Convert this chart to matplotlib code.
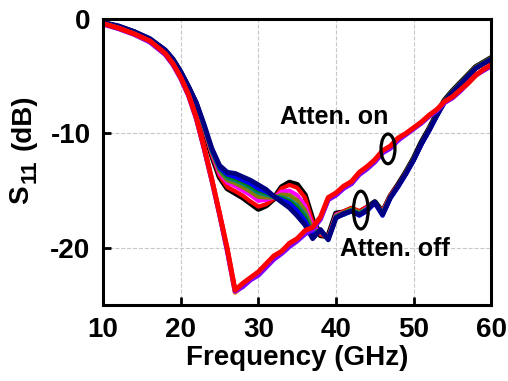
import matplotlib.pyplot as plt
from matplotlib.patches import Ellipse

plt.rcParams['font.family'] = ['Liberation Sans', 'DejaVu Sans']
plt.rcParams['font.weight'] = 'bold'
plt.rcParams['axes.unicode_minus'] = False

freq = [10, 12, 14, 16, 18, 19, 20, 21, 22, 23, 24, 25, 26, 27, 28, 29, 30, 31, 32, 33, 34, 35, 36, 37,
        38, 39, 40, 41, 42, 43, 44, 45, 46, 47, 48, 49, 50, 51, 52, 53, 54, 55, 56, 57, 58, 59, 60]

# Atten. off states
off_black = [-0.35, -0.7, -1.15, -1.8, -2.8, -3.6, -4.7, -6.0, -7.5, -9.6, -11.9, -13.8, -14.8, -15.2, -15.6, -16.1,
             -16.6, -16.3, -15.7, -14.7, -14.3, -14.5, -15.4, -17.6, -18.9, -19.0, -17.0, -16.9, -16.6, -16.9, -16.5,
             -16.0, -16.9, -15.5, -14.5, -13.4, -12.2, -10.8, -9.6, -8.3, -7.1, -6.3, -5.6, -4.9, -4.2, -3.8, -3.4]
off_red = [-0.35, -0.7, -1.15, -1.8, -2.8, -3.6, -4.7, -6.0, -7.45, -9.55, -11.85, -13.7, -14.7, -15.05, -15.45, -15.95,
           -16.4, -16.2, -15.7, -14.8, -14.5, -14.75, -15.6, -17.75, -18.85, -19.05, -17.1, -16.8, -16.5, -16.8, -16.4,
           -16.1, -16.8, -15.4, -14.5, -13.4, -12.2, -10.9, -9.6, -8.4, -7.2, -6.4, -5.7, -5.0, -4.3, -3.9, -3.6]
off_magenta = [-0.33, -0.68, -1.13, -1.78, -2.78, -3.58, -4.68, -5.98, -7.4, -9.45, -11.7, -13.5, -14.3, -14.6, -15.0,
               -15.4, -15.9, -15.8, -15.6, -15.1, -15.0, -15.4, -16.3, -18.1, -18.7, -19.1, -17.1, -16.9, -16.7, -17.0,
               -16.5, -16.2, -16.9, -15.5, -14.6, -13.5, -12.3, -10.9, -9.7, -8.4, -7.2, -6.4, -5.7, -5.0, -4.3, -3.9, -3.5]
off_olive = [-0.33, -0.66, -1.12, -1.75, -2.75, -3.55, -4.65, -5.95, -7.4, -9.4, -11.6, -13.3, -14.1, -14.35, -14.7,
             -15.1, -15.55, -15.6, -15.6, -15.35, -15.4, -15.85, -16.7, -18.4, -18.65, -19.15, -17.2, -16.9, -16.6, -16.9,
             -16.6, -16.1, -16.9, -15.5, -14.6, -13.4, -12.2, -10.9, -9.6, -8.3, -7.1, -6.3, -5.6, -4.9, -4.2, -3.8, -3.4]
off_teal = [-0.32, -0.64, -1.11, -1.73, -2.73, -3.53, -4.63, -5.93, -7.35, -9.3, -11.5, -13.1, -13.9, -14.1, -14.4,
            -14.75, -15.2, -15.35, -15.55, -15.6, -15.8, -16.3, -17.1, -18.7, -18.55, -19.2, -17.3, -17.0, -16.7, -17.0,
            -16.6, -16.0, -17.0, -15.6, -14.6, -13.5, -12.3, -10.9, -9.7, -8.4, -7.2, -6.4, -5.7, -5.0, -4.3, -3.9, -3.5]
off_green = [-0.32, -0.63, -1.1, -1.72, -2.72, -3.52, -4.62, -5.92, -7.32, -9.28, -11.45, -13.05, -13.75, -13.95, -14.25,
             -14.6, -15.0, -15.2, -15.5, -15.7, -15.95, -16.5, -17.35, -18.8, -18.5, -19.2, -17.3, -17.1, -16.8, -17.1,
             -16.7, -16.0, -17.1, -15.6, -14.6, -13.5, -12.3, -10.9, -9.7, -8.4, -7.2, -6.4, -5.7, -5.0, -4.3, -3.9, -3.5]
off_blue = [-0.31, -0.62, -1.1, -1.71, -2.71, -3.51, -4.61, -5.91, -7.3, -9.25, -11.4, -13.0, -13.6, -13.8, -14.1,
            -14.4, -14.85, -15.1, -15.5, -15.8, -16.1, -16.75, -17.6, -18.9, -18.5, -19.25, -17.35, -17.1, -16.8, -17.2,
            -16.8, -16.1, -17.2, -15.7, -14.7, -13.6, -12.4, -11.0, -9.8, -8.5, -7.3, -6.5, -5.7, -5.0, -4.3, -3.9, -3.5]
off_navy = [-0.3, -0.6, -1.1, -1.7, -2.7, -3.5, -4.6, -5.9, -7.3, -9.2, -11.3, -12.8, -13.4, -13.5, -13.8, -14.1,
            -14.5, -14.9, -15.5, -16.0, -16.5, -17.2, -18.0, -19.2, -18.4, -19.3, -17.4, -17.0, -16.8, -17.1, -16.7,
            -16.0, -17.1, -15.6, -14.6, -13.5, -12.3, -10.9, -9.7, -8.4, -7.2, -6.4, -5.7, -5.0, -4.3, -3.9, -3.5]

# Atten. on states
on_orange = [-0.4, -0.8, -1.3, -1.95, -3.05, -3.95, -5.15, -6.65, -8.65, -11.25, -14.05, -17.05, -20.2, -23.9, -23.3,
             -22.7, -22.3, -21.5, -20.9, -20.4, -19.7, -19.3, -18.6, -18.3, -17.4, -15.7, -15.3, -14.7, -14.3, -13.5,
             -13.0, -12.4, -11.6, -11.2, -10.5, -10.05, -9.55, -9.05, -8.45, -7.95, -7.25, -6.85, -6.25, -5.65, -4.95,
             -4.45, -4.05]
on_purple = [-0.45, -0.85, -1.35, -2.0, -3.1, -4.0, -5.2, -6.7, -8.7, -11.3, -14.1, -17.1, -20.3, -23.8, -23.4, -22.8,
             -22.4, -21.7, -21.0, -20.5, -19.9, -19.4, -18.8, -18.4, -17.5, -15.8, -15.4, -14.8, -14.4, -13.6, -13.1,
             -12.5, -11.7, -11.3, -10.6, -10.1, -9.6, -9.1, -8.5, -8.0, -7.3, -6.9, -6.3, -5.6, -4.9, -4.5, -4.1]
on_red = [-0.4, -0.8, -1.3, -1.9, -3.0, -3.9, -5.1, -6.6, -8.6, -11.2, -14.0, -17.0, -20.1, -23.7, -23.1, -22.6,
          -22.1, -21.4, -20.7, -20.3, -19.6, -19.2, -18.5, -18.2, -17.3, -15.6, -15.2, -14.6, -14.2, -13.4, -12.9,
          -12.3, -11.5, -11.1, -10.4, -10.0, -9.5, -9.0, -8.4, -7.9, -7.2, -6.8, -6.2, -5.6, -4.9, -4.4, -4.0]

fig = plt.figure(figsize=(5.08, 3.81), dpi=100)
ax = fig.add_axes([0.203, 0.1995, 0.764, 0.7505])

ax.plot(freq, off_black, color='black', linewidth=4.2)
ax.plot(freq, off_red, color='#ff0000', linewidth=3)
ax.plot(freq, off_magenta, color='#ff00ff', linewidth=3)
ax.plot(freq, off_olive, color='#808000', linewidth=3)
ax.plot(freq, off_teal, color='#008080', linewidth=3)
ax.plot(freq, off_green, color='#008000', linewidth=3)
ax.plot(freq, off_blue, color='#0000ff', linewidth=3)
ax.plot(freq, off_navy, color='#000080', linewidth=3.5)

ax.plot(freq, on_orange, color='#ff8000', linewidth=3.5)
ax.plot(freq, on_purple, color='#8000ff', linewidth=3.5)
ax.plot(freq, on_red, color='#ff0000', linewidth=3.5)

ax.add_patch(Ellipse((46.7, -11.35), 1.8, 2.6, fill=False, edgecolor='black', linewidth=2.3, zorder=5))
ax.add_patch(Ellipse((43.2, -16.7), 1.9, 3.3, fill=False, edgecolor='black', linewidth=2.3, zorder=5))
ax.text(32.8, -9.2, 'Atten. on', fontsize=18, fontweight='bold', ha='left', va='baseline')
ax.text(40.5, -20.7, 'Atten. off', fontsize=18, fontweight='bold', ha='left', va='baseline')

ax.set_xlim(10, 60)
ax.set_ylim(-25, 0)
ax.set_xticks([10, 20, 30, 40, 50, 60])
ax.set_yticks([0, -10, -20])
ax.grid(True, linestyle='--', color='#c8c8c8', linewidth=0.8)
ax.tick_params(direction='in', length=6, width=2, labelsize=20, pad=9)
for s in ax.spines.values():
    s.set_linewidth(2.2)

ax.set_xlabel('Frequency (GHz)', fontsize=20, fontweight='bold', labelpad=1)

# y label built from pieces so the subscript stays large
W, H = 508, 381
fig.text(21 / W, 1 - 204 / H, 'S', rotation=90, fontsize=20, fontweight='bold', ha='center', va='bottom')
fig.text(30 / W, 1 - 183 / H, '11', rotation=90, fontsize=16, fontweight='bold', ha='center', va='bottom')
fig.text(23.5 / W, 1 - 150 / H, '(dB)', rotation=90, fontsize=20, fontweight='bold', ha='center', va='bottom')

fig.savefig('out.png', dpi=100)
